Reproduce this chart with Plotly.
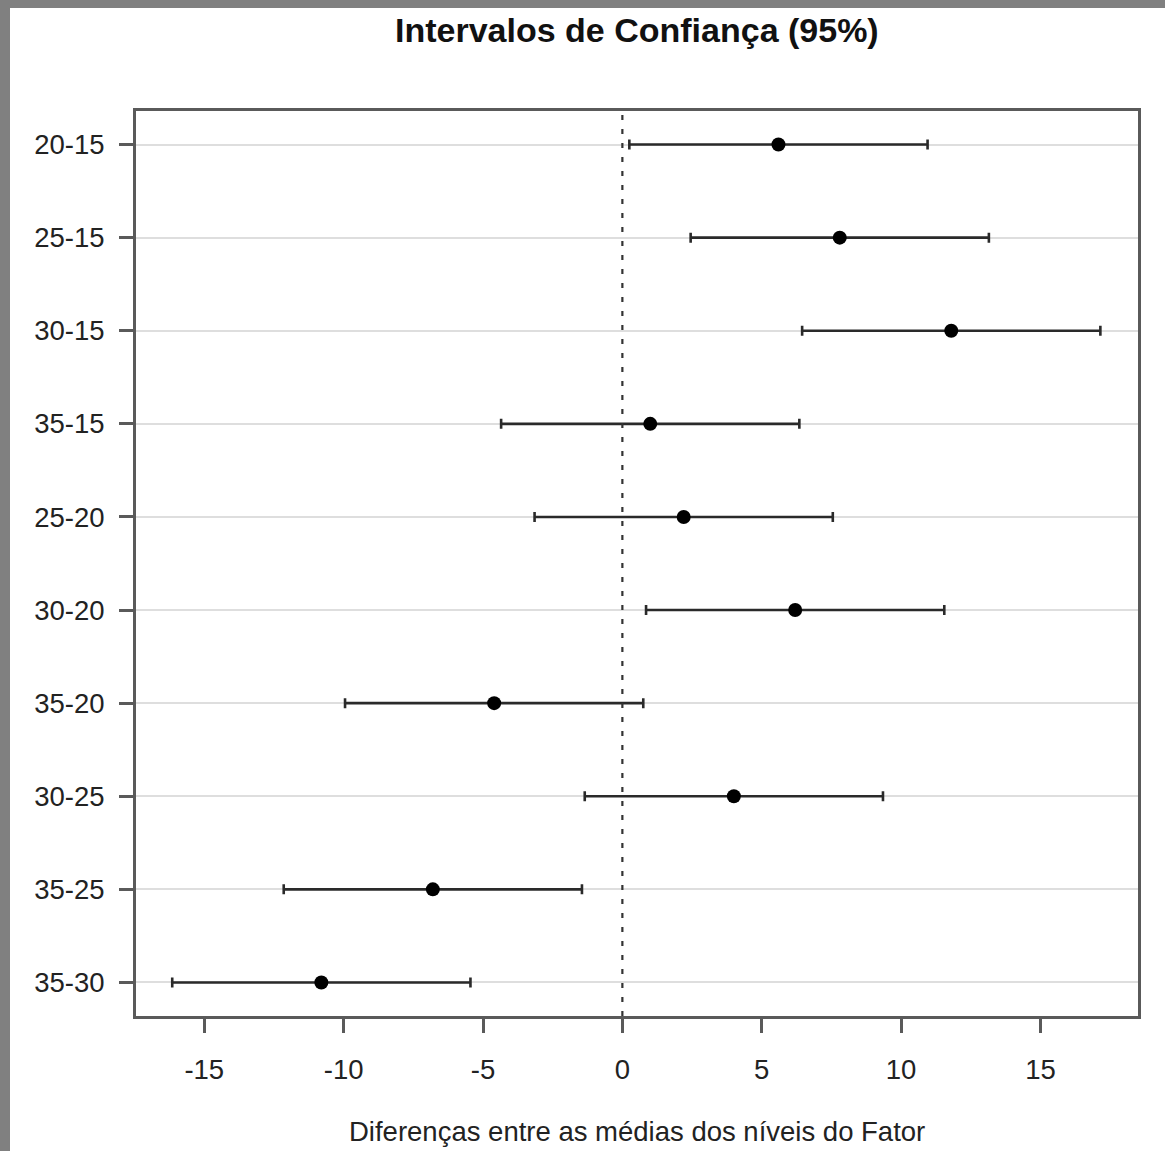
import plotly.graph_objects as go

# ---- data ----
comparisons = ["20-15", "25-15", "30-15", "35-15", "25-20", "30-20", "35-20", "30-25", "35-25", "35-30"]
diff = [5.6, 7.8, 11.8, 1.0, 2.2, 6.2, -4.6, 4.0, -6.8, -10.8]
lwr = [0.25, 2.45, 6.45, -4.35, -3.15, 0.85, -9.95, -1.35, -12.15, -16.15]
upr = [10.95, 13.15, 17.15, 6.35, 7.55, 11.55, 0.75, 9.35, -1.45, -5.45]
x_ticks = [-15, -10, -5, 0, 5, 10, 15]

title_text = "Intervalos de Confiança (95%)"
xlabel_text = "Diferenças entre as médias dos níveis do Fator"

W, H = 1165, 1151
L, R, T, B = 136, 27, 111, 135
pw, ph = W - L - R, H - T - B

n = len(comparisons)
ypos = [n - i for i in range(n)]  # top to bottom

FONT = "Liberation Sans, Arial, sans-serif"

fig = go.Figure()
fig.add_trace(go.Scatter(
    x=diff, y=ypos, mode="markers",
    marker=dict(color="black", size=14),
    error_x=dict(type="data", symmetric=False,
                 array=[u - d for u, d in zip(upr, diff)],
                 arrayminus=[d - l for d, l in zip(diff, lwr)],
                 color="#2a2a2a", thickness=2.6, width=5),
    showlegend=False, hoverinfo="skip",
))

def px_to_paper_x(p):
    return (p - L) / pw

def px_to_paper_y(p):
    return (H - B - p) / ph

shapes = [
    # white page over gray border
    dict(type="rect", xref="paper", yref="paper",
         x0=px_to_paper_x(10), x1=px_to_paper_x(W + 5),
         y0=px_to_paper_y(H + 5), y1=px_to_paper_y(8),
         fillcolor="white", line=dict(width=0), layer="below"),
    # vertical dotted reference at 0
    dict(type="line", xref="x", yref="paper", x0=0, x1=0, y0=0, y1=1,
         line=dict(color="#333333", width=2.2, dash="5px,9px"), layer="above"),
]

annotations = [
    dict(text=title_text, xref="paper", yref="paper", x=0.5, y=px_to_paper_y(30),
         xanchor="center", yanchor="middle", showarrow=False,
         font=dict(family=FONT, size=34, color="#111111", weight="bold")),
    dict(text=xlabel_text, xref="paper", yref="paper", x=0.5, y=px_to_paper_y(1131),
         xanchor="center", yanchor="middle", showarrow=False,
         font=dict(family=FONT, size=27.5, color="#222222")),
]

fig.update_layout(
    width=W, height=H,
    margin=dict(l=L, r=R, t=T, b=B, pad=0),
    paper_bgcolor="#808080",
    plot_bgcolor="white",
    shapes=shapes,
    annotations=annotations,
    font=dict(family=FONT, size=27, color="#222222"),
)

fig.update_xaxes(
    range=[-17.45, 18.5], tickvals=x_ticks, ticktext=[str(v) for v in x_ticks],
    showgrid=False, zeroline=False,
    showline=True, mirror=True, linecolor="#5a5a5a", linewidth=3,
    ticks="outside", ticklen=14, tickwidth=2.5, tickcolor="#5a5a5a",
    ticklabelstandoff=13,
    tickfont=dict(family=FONT, size=27.5, color="#222222"),
)
fig.update_yaxes(
    range=[0.64, 10.36], tickvals=ypos, ticktext=comparisons,
    showgrid=True, gridcolor="#dedede", gridwidth=2, zeroline=False,
    showline=True, mirror=True, linecolor="#5a5a5a", linewidth=3,
    ticks="outside", ticklen=14, tickwidth=2.5, tickcolor="#5a5a5a",
    ticklabelstandoff=9,
    tickfont=dict(family=FONT, size=27.5, color="#222222"),
)

fig.write_html(
    "out.html",
    config={"displayModeBar": False},
    post_script="document.body.style.margin='0px';document.body.style.overflow='hidden';",
)
